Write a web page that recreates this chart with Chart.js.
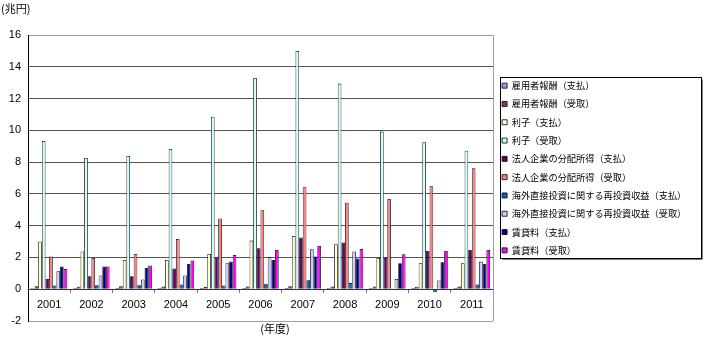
<!DOCTYPE html>
<html>
<head>
<meta charset="utf-8">
<script src="https://cdn.jsdelivr.net/npm/chart.js@4.4.1/dist/chart.umd.min.js"></script>
<style>
  html, body { margin: 0; padding: 0; background: #fff; }
  #wrap { width: 718px; height: 343px; }
</style>
</head>
<body>
<div id="wrap"><canvas id="incomeChart" width="718" height="343"></canvas></div>
<script>
// 年度
const years = ['2001', '2002', '2003', '2004', '2005', '2006', '2007', '2008', '2009', '2010', '2011'];

// 兆円
const compPaid      = [0.08, 0.07, 0.07, 0.07, 0.07, 0.07, 0.07, 0.07, 0.07, 0.07, 0.07];
const compRecv      = [0.19, 0.16, 0.18, 0.17, 0.15, 0.17, 0.18, 0.17, 0.17, 0.16, 0.17];
const interestPaid  = [3.0, 2.37, 1.84, 1.84, 2.22, 3.06, 3.35, 2.83, 1.97, 1.64, 1.64];
const interestRecv  = [9.33, 8.26, 8.38, 8.83, 10.86, 13.29, 15.0, 12.94, 9.92, 9.25, 8.72];
const corpPaid      = [0.65, 0.82, 0.82, 1.3, 1.97, 2.58, 3.25, 2.94, 1.97, 2.41, 2.47];
const corpRecv      = [2.06, 1.97, 2.22, 3.16, 4.45, 4.97, 6.42, 5.45, 5.68, 6.48, 7.62];
const reinvestPaid  = [0.23, 0.25, 0.25, 0.29, 0.23, 0.34, 0.57, 0.4, 0.02, -0.19, 0.29];
const reinvestRecv  = [1.13, 0.86, 0.61, 0.86, 1.64, 2.01, 2.52, 2.37, 0.65, 0.55, 1.74];
const rentPaid      = [1.43, 1.43, 1.34, 1.59, 1.74, 1.84, 2.06, 1.93, 1.64, 1.7, 1.59];
const rentRecv      = [1.28, 1.43, 1.49, 1.8, 2.16, 2.47, 2.72, 2.54, 2.2, 2.41, 2.47];

const seriesNames = [
  '雇用者報酬（支払）', '雇用者報酬（受取）', '利子（支払）', '利子（受取）',
  '法人企業の分配所得（支払）', '法人企業の分配所得（受取）',
  '海外直接投資に関する再投資収益（支払）', '海外直接投資に関する再投資収益（受取）',
  '賃貸料（支払）', '賃貸料（受取）'
];
const seriesValues = [compPaid, compRecv, interestPaid, interestRecv, corpPaid, corpRecv,
  reinvestPaid, reinvestRecv, rentPaid, rentRecv];
const seriesColors = ['#9999FF', '#993366', '#FFFFCC', '#CCFFFF', '#660066', '#FF8080',
  '#0066CC', '#CCCCFF', '#000080', '#FF00FF'];

const yTicks = [-2, 0, 2, 4, 6, 8, 10, 12, 14, 16];

const jpFont = '"Noto Sans CJK JP", "Noto Sans", sans-serif';
const numFont = '"Liberation Sans", Arial, sans-serif';

// 凡例を少し上へ寄せる
const legendShift = {
  id: 'legendShift',
  afterLayout(chart) {
    chart.legend.top -= 10;
    chart.legend.bottom -= 10;
  }
};

// 軸ラベル・プロット枠・凡例枠
const decorations = {
  id: 'decorations',
  afterDraw(chart) {
    const { ctx, chartArea: a } = chart;
    ctx.save();
    ctx.strokeStyle = '#a0a0a0';
    ctx.lineWidth = 1;
    ctx.beginPath();
    ctx.moveTo(Math.round(a.right) + 0.5, a.top);
    ctx.lineTo(Math.round(a.right) + 0.5, a.bottom);
    ctx.stroke();

    ctx.fillStyle = '#000';
    ctx.font = '11px ' + jpFont;
    ctx.textBaseline = 'middle';
    ctx.textAlign = 'left';
    ctx.fillText('(兆円)', 1, 9);
    ctx.textAlign = 'center';
    ctx.fillText('(年度)', 275, 329);

    const boxes = chart.legend.legendHitBoxes;
    if (boxes && boxes.length) {
      const left = Math.round(boxes[0].left) - 1.5;
      const top = Math.round(boxes[0].top) - 3.5;
      const last = boxes[boxes.length - 1];
      const bottom = Math.round(last.top + last.height) + 3.5;
      const right = left + 201;
      ctx.strokeStyle = '#000';
      ctx.strokeRect(left, top, right - left, bottom - top);
      ctx.strokeStyle = '#808080';
      ctx.beginPath();
      ctx.moveTo(left + 2, bottom + 1);
      ctx.lineTo(right + 1, bottom + 1);
      ctx.lineTo(right + 1, top + 2);
      ctx.stroke();
    }
    ctx.restore();
  }
};

const ctx = document.getElementById('incomeChart').getContext('2d');

const incomeChart = new Chart(ctx, {
  type: 'bar',
  data: {
    labels: years,
    datasets: seriesNames.map((name, i) => ({
      label: name,
      data: seriesValues[i],
      backgroundColor: seriesColors[i],
      borderColor: '#000',
      borderWidth: 0.8,
      categoryPercentage: 0.86,
      barPercentage: 1.0
    }))
  },
  options: {
    responsive: false,
    animation: false,
    devicePixelRatio: 1,
    layout: { padding: { top: 35, right: 30, bottom: 22, left: 0 } },
    plugins: {
      tooltip: { enabled: false },
      legend: {
        position: 'right',
        align: 'center',
        maxWidth: 195,
        labels: {
          boxWidth: 5,
          boxHeight: 5,
          padding: 9.1,
          color: '#000',
          font: { family: jpFont, size: 9.2 }
        }
      }
    },
    scales: {
      x: {
        position: { y: 0 },
        afterFit: s => { s.height = 0; },
        grid: { display: true, drawOnChartArea: false, drawTicks: true, tickLength: 3, color: '#777', offset: true },
        border: { display: true, color: '#333' },
        ticks: { color: '#000', padding: 6, font: { family: numFont, size: 11 }, maxRotation: 0 }
      },
      y: {
        min: -2,
        max: 16,
        afterFit: s => { s.width = 28; },
        afterBuildTicks: s => { s.ticks = yTicks.map(v => ({ value: v })); },
        grid: {
          drawTicks: false,
          color: c => (c.tick.value === 16 || c.tick.value === -2) ? '#a0a0a0' : '#555'
        },
        border: { display: true, color: '#000' },
        ticks: { color: '#000', padding: 7, font: { family: numFont, size: 11 } }
      }
    }
  },
  plugins: [legendShift, decorations]
});
</script>
</body>
</html>
